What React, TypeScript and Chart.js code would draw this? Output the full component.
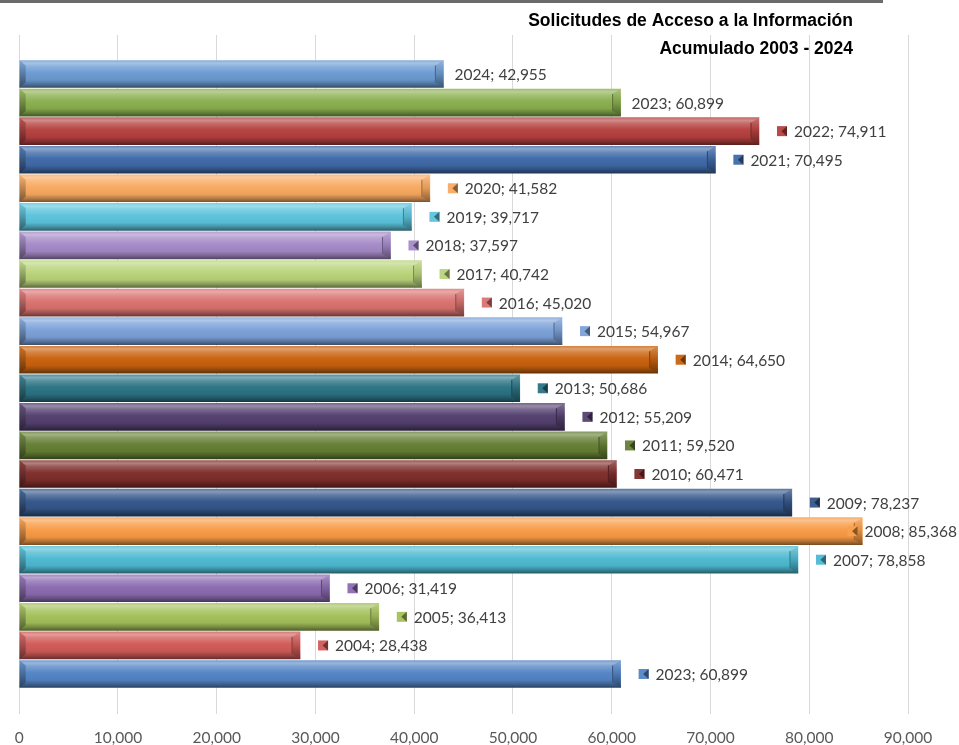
import React, { useEffect, useRef } from "react";
import { Chart, registerables } from "chart.js";

Chart.register(...registerables);

// Data (bottom bar first, as in the source chart)
const yearLabels = [
  "2023", "2004", "2005", "2006", "2007", "2008", "2009", "2010", "2011", "2012", "2013",
  "2014", "2015", "2016", "2017", "2018", "2019", "2020", "2021", "2022", "2023", "2024",
];
const requests = [
  60899, 28438, 36413, 31419, 78858, 85368, 78237, 60471, 59520, 55209, 50686,
  64650, 54967, 45020, 40742, 37597, 39717, 41582, 70495, 74911, 60899, 42955,
];
const labelMarkers = [
  true, true, true, true, true, true, true, true, true, true, true,
  true, true, true, true, true, true, true, true, true, false, false,
];
const titleLines = ["Solicitudes de Acceso a la Información", "Acumulado 2003 - 2024"];
const xMin = 0;
const xMax = 90000;
const xStep = 10000;

// Styles
const barColors = [
  "#5485C5", "#D05B58", "#A3C15A", "#8B6BB0", "#4DBAD2", "#F89B45", "#34568A", "#7E2E2B",
  "#657F35", "#54406F", "#2B7384", "#C9620E", "#7BA1D8", "#D9726F", "#B9D47A", "#A58BC8",
  "#5CC4DC", "#F9A960", "#3F6AA8", "#B5403E", "#8AAF4E", "#6C9BD2",
];
const BAR_T = 27;
const LABEL_FONT = '15.5px Lato, "Open Sans", sans-serif';

function hexToRgb(h: string) {
  const n = parseInt(h.slice(1), 16);
  return [(n >> 16) & 255, (n >> 8) & 255, n & 255];
}
function shade(h: string, amt: number) {
  const [r, g, b] = hexToRgb(h);
  const f = (c: number) =>
    Math.round(amt >= 0 ? c + (255 - c) * amt : c * (1 + amt));
  return `rgb(${f(r)},${f(g)},${f(b)})`;
}

const bevelPlugin = {
  id: "bevel",
  afterDatasetsDraw(chart: any) {
    const ctx = chart.ctx;
    const meta = chart.getDatasetMeta(0);
    meta.data.forEach((el: any, i: number) => {
      const { x, y, base, height } = el.getProps(["x", "y", "base", "height"], true);
      const c = barColors[i];
      const top = y - height / 2;
      const bot = y + height / 2;
      const w = 8;
      const b = 5;
      ctx.save();
      let g = ctx.createLinearGradient(0, top, 0, bot);
      g.addColorStop(0, shade(c, 0.25));
      g.addColorStop(0.5, shade(c, -0.1));
      g.addColorStop(1, shade(c, -0.45));
      ctx.fillStyle = g;
      ctx.beginPath();
      ctx.moveTo(x - w, top + b);
      ctx.lineTo(x, top);
      ctx.lineTo(x, bot);
      ctx.lineTo(x - w, bot - b);
      ctx.closePath();
      ctx.fill();
      g = ctx.createLinearGradient(0, top, 0, bot);
      g.addColorStop(0, shade(c, 0.1));
      g.addColorStop(1, shade(c, -0.5));
      ctx.fillStyle = g;
      ctx.beginPath();
      ctx.moveTo(base, top);
      ctx.lineTo(base + 6, top + b);
      ctx.lineTo(base + 6, bot - b);
      ctx.lineTo(base, bot);
      ctx.closePath();
      ctx.fill();
      ctx.strokeStyle = shade(c, -0.35);
      ctx.lineWidth = 1;
      ctx.beginPath();
      ctx.moveTo(x - w, top + b);
      ctx.lineTo(x - w, bot - b);
      ctx.stroke();
      ctx.restore();
    });
  },
};

const labelPlugin = {
  id: "valueLabels",
  afterDatasetsDraw(chart: any) {
    const ctx = chart.ctx;
    const meta = chart.getDatasetMeta(0);
    ctx.save();
    ctx.font = LABEL_FONT;
    ctx.textBaseline = "middle";
    ctx.textAlign = "left";
    meta.data.forEach((el: any, i: number) => {
      const { x, y } = el.getProps(["x", "y"], true);
      const text = `${yearLabels[i]}; ${requests[i].toLocaleString("en-US")}`;
      const tw = ctx.measureText(text).width;
      const hasMarker = labelMarkers[i];
      let tx = hasMarker ? x + 35 : x + 11;
      const limit = chart.width - 2;
      if (tx + tw > limit) tx = limit - tw;
      if (hasMarker) {
        const mx = tx - 17;
        const my = y - 5;
        const c = barColors[i];
        ctx.fillStyle = shade(c, 0.05);
        ctx.fillRect(mx, my, 10, 10);
        ctx.fillStyle = shade(c, -0.45);
        ctx.beginPath();
        ctx.moveTo(mx + 10, my);
        ctx.lineTo(mx + 10, my + 10);
        ctx.lineTo(mx + 4.5, my + 5);
        ctx.closePath();
        ctx.fill();
      }
      ctx.fillStyle = "#404040";
      ctx.fillText(text, tx, y + 1);
    });
    ctx.restore();
  },
};

const titlePlugin = {
  id: "cornerTitle",
  afterDraw(chart: any) {
    const ctx = chart.ctx;
    ctx.save();
    ctx.font = 'bold 17.5px "Liberation Sans", Arial, sans-serif';
    ctx.fillStyle = "#000000";
    ctx.textAlign = "right";
    ctx.textBaseline = "middle";
    ctx.fillText(titleLines[0], 853, 21);
    ctx.fillText(titleLines[1], 853, 49.5);
    ctx.restore();
  },
};

export default function App() {
  const ref = useRef<HTMLCanvasElement | null>(null);
  useEffect(() => {
    if (!ref.current) return;
    const chart = new Chart(ref.current, {
      type: "bar",
      data: {
        datasets: [
          {
            data: requests.map((v, i) => ({ x: v, y: i })),
            barThickness: BAR_T,
            borderWidth: 0,
            backgroundColor: (c: any) => {
              const i = c.dataIndex ?? 0;
              const col = barColors[i] || "#888";
              const ys = c.chart.scales?.y;
              if (c.type !== "data" || !ys || ys.top === undefined) return col;
              const cy = ys.getPixelForValue(i);
              if (!isFinite(cy)) return col;
              const top = cy - BAR_T / 2;
              const g = c.chart.ctx.createLinearGradient(0, top, 0, top + BAR_T);
              g.addColorStop(0, shade(col, 0.2));
              g.addColorStop(0.1, shade(col, 0.4));
              g.addColorStop(0.22, shade(col, 0.22));
              g.addColorStop(0.45, shade(col, 0.02));
              g.addColorStop(0.72, shade(col, -0.05));
              g.addColorStop(0.88, shade(col, -0.28));
              g.addColorStop(1, shade(col, -0.5));
              return g;
            },
          } as any,
        ],
      },
      options: {
        animation: false,
        responsive: false,
        maintainAspectRatio: false,
        indexAxis: "y",
        layout: { padding: { left: 19, right: 51, top: 35, bottom: -17 } },
        plugins: {
          legend: { display: false },
          tooltip: { enabled: false },
          title: { display: false },
        },
        scales: {
          x: {
            type: "linear",
            min: xMin,
            max: xMax,
            grid: { color: "#D9D9D9", drawTicks: false, lineWidth: 1 },
            border: { display: false },
            ticks: {
              stepSize: xStep,
              padding: 14.7,
              color: "#595959",
              font: { family: 'Lato, "Open Sans", sans-serif', size: 15.5 },
              callback: (v: any) => Number(v).toLocaleString("en-US"),
            },
          },
          y: {
            type: "linear",
            display: false,
            offset: false,
            grace: 0,
            bounds: "data",
            min: -1.4,
            max: yearLabels.length - 1 + 1.365,
          },
        },
      },
      plugins: [bevelPlugin, labelPlugin, titlePlugin],
    } as any);
    return () => chart.destroy();
  }, []);

  return (
    <div style={{ position: "absolute", left: 0, top: 0, width: 959, height: 745, background: "#fff", overflow: "hidden" }}>
      <canvas ref={ref} width={959} height={745} style={{ display: "block", width: 959, height: 745 }} />
      <div
        style={{ position: "absolute", left: 0, top: 0, width: 883, height: 3, background: "#6b6b6b" }}
      />
    </div>
  );
}
